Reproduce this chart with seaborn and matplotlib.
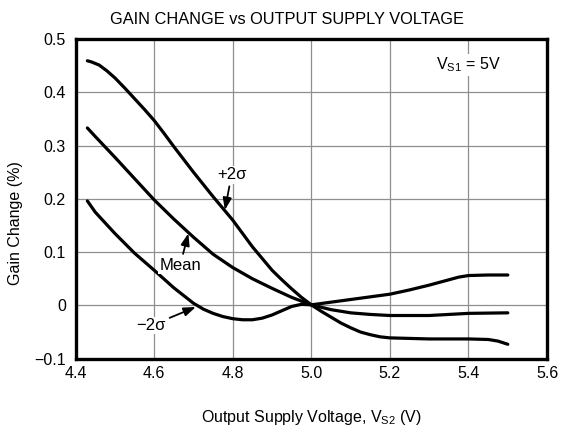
import numpy as np
import pandas as pd
import matplotlib
matplotlib.use("Agg")
import matplotlib.pyplot as plt
import seaborn as sns

# curve: the one labelled +2 sigma (top at left)
v_plus = [4.43, 4.44, 4.46, 4.48, 4.50, 4.525, 4.55, 4.575, 4.60, 4.625, 4.65, 4.70, 4.75, 4.80,
          4.85, 4.875, 4.90, 4.925, 4.95, 4.975, 5.00, 5.025, 5.05, 5.075, 5.10, 5.125, 5.15,
          5.175, 5.20, 5.30, 5.40, 5.45, 5.475, 5.50]
g_plus = [0.459, 0.457, 0.451, 0.440, 0.427, 0.408, 0.388, 0.368, 0.347, 0.323, 0.298, 0.250,
          0.204, 0.160, 0.110, 0.088, 0.066, 0.048, 0.031, 0.015, 0.001, -0.011, -0.022,
          -0.033, -0.042, -0.050, -0.055, -0.059, -0.061, -0.063, -0.063, -0.064, -0.067, -0.073]

# mean curve
v_mean = [4.43, 4.45, 4.50, 4.55, 4.60, 4.65, 4.70, 4.75, 4.80, 4.85, 4.90, 4.95,
          5.00, 5.05, 5.10, 5.15, 5.20, 5.30, 5.40, 5.50]
g_mean = [0.333, 0.317, 0.278, 0.238, 0.198, 0.162, 0.128, 0.096, 0.071, 0.050, 0.032, 0.015,
          0.001, -0.008, -0.014, -0.017, -0.019, -0.019, -0.015, -0.014]

# curve labelled -2 sigma (bottom at left)
v_minus = [4.43, 4.45, 4.50, 4.55, 4.60, 4.65, 4.70, 4.725, 4.75, 4.775, 4.80, 4.825, 4.85,
           4.875, 4.90, 4.925, 4.95, 4.975, 5.00, 5.05, 5.10, 5.15, 5.20, 5.25, 5.30, 5.35,
           5.375, 5.40, 5.45, 5.50]
g_minus = [0.196, 0.175, 0.135, 0.098, 0.066, 0.033, 0.004, -0.007, -0.015, -0.021, -0.025,
           -0.027, -0.027, -0.024, -0.018, -0.010, -0.002, 0.002, 0.001, 0.006, 0.011, 0.016,
           0.021, 0.029, 0.038, 0.048, 0.053, 0.056, 0.057, 0.057]

x_ticks = [4.4, 4.6, 4.8, 5.0, 5.2, 5.4, 5.6]
y_ticks = [-0.1, 0, 0.1, 0.2, 0.3, 0.4, 0.5]
y_tick_labels = ["\u22120.1", "0", "0.1", "0.2", "0.3", "0.4", "0.5"]

df = pd.concat([
    pd.DataFrame({"Vs2": v_plus, "gain": g_plus, "curve": "+2s"}),
    pd.DataFrame({"Vs2": v_mean, "gain": g_mean, "curve": "mean"}),
    pd.DataFrame({"Vs2": v_minus, "gain": g_minus, "curve": "-2s"}),
])

sns.set_style("white", {"text.color": "black", "axes.labelcolor": "black"})
plt.rcParams["font.family"] = ["Liberation Sans", "DejaVu Sans"]
plt.rcParams["mathtext.fontset"] = "custom"
plt.rcParams["mathtext.rm"] = "Liberation Sans"

fig = plt.figure(figsize=(5.64, 4.28), dpi=100)
ax = fig.add_axes([0.134, 0.162, 0.836, 0.747])

sns.lineplot(data=df, x="Vs2", y="gain", units="curve", estimator=None,
             color="black", lw=2.3, sort=True, ax=ax, solid_joinstyle="round")

ax.set_xlim(4.4, 5.6)
ax.set_ylim(-0.1, 0.5)
ax.set_xticks(x_ticks)
ax.set_xticklabels([f"{t:.1f}" for t in x_ticks])
ax.set_yticks(y_ticks)
ax.set_yticklabels(y_tick_labels)
ax.tick_params(length=0, labelsize=11.5, colors="black")
ax.tick_params(axis="x", pad=5)
ax.tick_params(axis="y", pad=7)
ax.grid(True, color="#8f8f8f", lw=0.9)
ax.set_axisbelow(True)
for s in ax.spines.values():
    s.set_visible(True)
    s.set_color("black")
    s.set_linewidth(2.4)

ax.set_xlabel(r"Output Supply Voltage, $\mathregular{V_{S2}}$ (V)", fontsize=11.5, color="black")
ax.set_ylabel("Gain Change (%)", fontsize=11.5, color="black")
ax.xaxis.set_label_coords(0.5, -0.155)
ax.yaxis.set_label_coords(-0.112, 0.423)
ax.set_title("GAIN CHANGE vs OUTPUT SUPPLY VOLTAGE", fontsize=11.8, x=0.448, pad=11,
             color="black")

box = dict(facecolor="white", edgecolor="none", pad=1)
ax.text(5.4, 0.451, r"$\mathregular{V_{S1}}$ = 5V", fontsize=11.5, ha="center", va="center",
        color="black", bbox=box)

arrow = dict(arrowstyle="-|>,head_length=0.6,head_width=0.22", color="black", lw=1.3,
             shrinkA=2, shrinkB=0)
ax.annotate("+2\u03c3", xy=(4.78, 0.179), xytext=(4.797, 0.245), fontsize=12, color="black",
            ha="center", va="center", arrowprops=arrow, bbox=box)
ax.annotate("Mean", xy=(4.687, 0.135), xytext=(4.666, 0.075), fontsize=12, color="black",
            ha="center", va="center", arrowprops=arrow, bbox=box)
ax.annotate("\u22122\u03c3", xy=(4.706, -0.003), xytext=(4.592, -0.038), fontsize=12,
            color="black", ha="center", va="center", arrowprops=arrow, bbox=box)

fig.savefig("out.png", dpi=100)
